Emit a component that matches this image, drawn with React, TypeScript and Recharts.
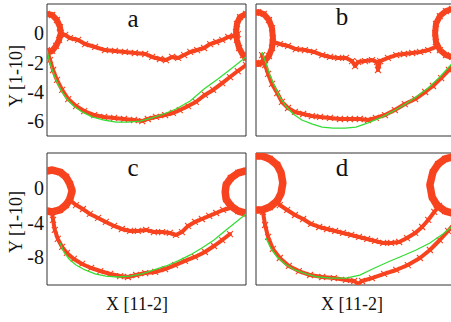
import { ScatterChart, Scatter, XAxis, YAxis } from 'recharts';

const RED = '#f7431f';
const GREEN = '#36dc36';
const FRAME = '#333';
const SERIF = '"Liberation Serif", "DejaVu Serif", serif';

type Pt = [number, number];

const xTicks = [1, 2, 3, 4, 5];
const topTicks = [0, -2, -4, -6];
const bottomTicks = [0, -4, -8];
const topDomain = [-7, 2];
const bottomDomain = [-11.2, 4];

// panel a
const aRingL: Pt[] = [[0.70, 1.32], [0.82, 1.25], [0.93, 0.91], [1.00, 0.43], [1.02, 0.02], [0.98, -0.45], [0.91, -0.86], [0.82, -1.20], [0.70, -1.34]];
const aRingR: Pt[] = [[5.30, 1.32], [5.16, 1.11], [5.09, 0.64], [5.07, 0.09], [5.09, -0.45], [5.14, -1.00], [5.23, -1.48], [5.30, -1.68]];
const aUpper: Pt[] = [[1.00, 0.02], [1.12, -0.11], [1.23, -0.32], [1.42, -0.45], [1.58, -0.73], [1.81, -0.93], [2.04, -1.14], [2.27, -1.20], [2.50, -1.27], [2.73, -1.34], [2.97, -1.41], [3.13, -1.61], [3.31, -1.75], [3.45, -1.82], [3.59, -1.61], [3.73, -1.68], [3.87, -1.48], [4.01, -1.27], [4.17, -1.14], [4.33, -1.00], [4.47, -0.73], [4.61, -0.59], [4.75, -0.45], [4.89, -0.25], [5.02, -0.18], [5.11, -0.05]];
const aLower: Pt[] = [[0.70, -1.14], [0.77, -1.82], [0.84, -2.50], [0.93, -3.18], [1.05, -3.86], [1.19, -4.48], [1.37, -4.96], [1.56, -5.30], [1.79, -5.57], [2.02, -5.70], [2.25, -5.77], [2.48, -5.84], [2.71, -5.91], [2.90, -5.98], [3.03, -5.84], [3.22, -5.70], [3.43, -5.57], [3.61, -5.43], [3.77, -5.23], [3.96, -4.96], [4.14, -4.68], [4.35, -4.20], [4.54, -3.86], [4.75, -3.39], [4.93, -2.98], [5.11, -2.57], [5.30, -2.16]];
const aFit: Pt[] = [[0.70, -1.14], [0.75, -1.82], [0.82, -2.50], [0.91, -3.18], [1.02, -3.86], [1.16, -4.48], [1.32, -4.96], [1.51, -5.36], [1.74, -5.70], [2.02, -5.91], [2.30, -6.05], [2.57, -6.05], [2.85, -5.98], [3.13, -5.77], [3.40, -5.50], [3.68, -5.16], [4.01, -4.61], [4.33, -3.80], [4.65, -3.11], [4.98, -2.36], [5.30, -1.61]];

// panel b
const bRingL: Pt[] = [[0.70, 1.40], [0.75, 1.45], [0.88, 1.32], [1.00, 0.91], [1.07, 0.36], [1.09, -0.32], [1.07, -1.00], [1.00, -1.55], [0.88, -1.95], [0.75, -2.09], [0.70, -2.02]];
const bRingR: Pt[] = [[5.30, 1.66], [5.23, 1.66], [5.09, 1.52], [4.95, 1.18], [4.86, 0.64], [4.84, 0.02], [4.86, -0.59], [4.95, -1.14], [5.09, -1.48], [5.23, -1.61], [5.30, -1.61]];
const bUpper: Pt[] = [[1.09, -0.59], [1.25, -0.73], [1.44, -0.86], [1.62, -1.07], [1.83, -1.14], [2.04, -1.27], [2.23, -1.48], [2.41, -1.61], [2.60, -1.68], [2.78, -1.68], [2.92, -1.89], [2.99, -2.23], [3.06, -1.95], [3.22, -1.89], [3.38, -1.82], [3.50, -1.95], [3.52, -2.50], [3.57, -1.89], [3.75, -1.68], [3.94, -1.48], [4.12, -1.41], [4.31, -1.34], [4.49, -1.27], [4.68, -1.14], [4.86, -0.93]];
const bLower: Pt[] = [[0.84, -1.48], [0.91, -2.16], [0.98, -2.77], [1.07, -3.45], [1.19, -4.07], [1.30, -4.68], [1.44, -5.09], [1.60, -5.36], [1.79, -5.50], [1.99, -5.64], [2.18, -5.70], [2.41, -5.77], [2.64, -5.84], [2.87, -5.84], [3.10, -5.84], [3.29, -5.91], [3.47, -5.77], [3.68, -5.57], [3.91, -5.23], [4.14, -4.82], [4.38, -4.48], [4.61, -4.00], [4.79, -3.59], [4.98, -3.05], [5.16, -2.50], [5.30, -2.09]];
const bFit: Pt[] = [[0.84, -1.27], [0.93, -2.02], [1.02, -2.84], [1.14, -3.66], [1.25, -4.34], [1.39, -4.96], [1.56, -5.50], [1.76, -5.91], [1.99, -6.18], [2.23, -6.39], [2.48, -6.46], [2.76, -6.46], [3.01, -6.39], [3.29, -6.11], [3.57, -5.77], [3.84, -5.36], [4.12, -4.89], [4.40, -4.34], [4.68, -3.73], [4.95, -2.98], [5.18, -2.23], [5.30, -1.82]];

// panel c
const cRingL: Pt[] = [[0.70, 1.93], [0.82, 2.04], [1.00, 1.81], [1.14, 1.24], [1.23, 0.43], [1.28, -0.37], [1.23, -1.30], [1.14, -1.99], [1.00, -2.56], [0.82, -2.79], [0.70, -2.68]];
const cRingR: Pt[] = [[5.30, 1.93], [5.12, 1.70], [4.95, 1.12], [4.84, 0.32], [4.82, -0.49], [4.84, -1.30], [4.95, -2.10], [5.12, -2.68], [5.30, -2.91]];
const cUpper: Pt[] = [[1.23, -1.41], [1.37, -1.99], [1.53, -2.45], [1.69, -3.02], [1.88, -3.48], [2.06, -3.94], [2.25, -4.40], [2.43, -4.75], [2.62, -4.98], [2.80, -4.98], [2.99, -4.86], [3.17, -5.10], [3.36, -5.10], [3.54, -5.21], [3.68, -5.44], [3.82, -5.10], [3.96, -4.40], [4.12, -3.94], [4.28, -3.60], [4.45, -3.25], [4.61, -2.91], [4.77, -2.56], [4.93, -2.33]];
const cLower: Pt[] = [[0.82, -2.79], [0.84, -3.71], [0.88, -4.86], [0.95, -5.90], [1.05, -6.82], [1.16, -7.51], [1.32, -8.20], [1.51, -8.78], [1.72, -9.24], [1.93, -9.59], [2.16, -9.93], [2.39, -10.17], [2.57, -10.28], [2.76, -10.05], [2.97, -9.82], [3.20, -9.70], [3.43, -9.36], [3.66, -8.90], [3.89, -8.43], [4.12, -7.97], [4.35, -7.40], [4.56, -6.71], [4.75, -6.02], [4.93, -5.33]];
const cFit: Pt[] = [[1.00, -6.36], [1.09, -7.40], [1.21, -8.20], [1.37, -8.90], [1.58, -9.47], [1.81, -9.93], [2.06, -10.17], [2.34, -10.28], [2.62, -10.17], [2.90, -9.93], [3.17, -9.47], [3.45, -9.01], [3.73, -8.43], [4.01, -7.74], [4.28, -6.94], [4.56, -6.02], [4.84, -4.86], [5.07, -3.94], [5.30, -3.02]];

// panel d
const dRingL: Pt[] = [[0.70, 3.65], [0.84, 3.65], [1.02, 3.31], [1.19, 2.62], [1.28, 1.70], [1.32, 0.55], [1.28, -0.61], [1.19, -1.53], [1.02, -2.22], [0.84, -2.56], [0.70, -2.56]];
const dRingR: Pt[] = [[5.30, 3.54], [5.25, 3.54], [5.07, 3.31], [4.91, 2.73], [4.79, 1.81], [4.72, 0.32], [4.77, -1.07], [4.88, -1.99], [5.07, -2.68], [5.25, -2.91], [5.30, -2.91]];
const dUpper: Pt[] = [[1.25, -1.99], [1.42, -2.56], [1.60, -3.14], [1.79, -3.60], [1.97, -4.17], [2.16, -4.52], [2.34, -4.75], [2.53, -4.98], [2.71, -5.21], [2.90, -5.44], [3.08, -5.67], [3.27, -5.90], [3.45, -6.13], [3.64, -6.36], [3.82, -6.36], [4.01, -6.25], [4.19, -5.79], [4.38, -5.21], [4.54, -4.52], [4.68, -3.71], [4.82, -2.79], [4.93, -2.10]];
const dLower: Pt[] = [[0.86, -2.79], [0.91, -4.29], [0.98, -5.67], [1.09, -7.05], [1.25, -8.09], [1.46, -9.01], [1.69, -9.59], [1.95, -10.05], [2.23, -10.28], [2.50, -10.40], [2.78, -10.62], [2.97, -10.74], [3.06, -11.08], [3.15, -10.74], [3.38, -10.40], [3.66, -9.93], [3.94, -9.47], [4.21, -8.90], [4.49, -8.09], [4.72, -7.17], [4.95, -6.02], [5.14, -4.98], [5.30, -4.06]];
const dFit: Pt[] = [[0.93, -5.79], [1.05, -7.05], [1.19, -7.97], [1.37, -8.78], [1.60, -9.47], [1.86, -9.93], [2.13, -10.28], [2.46, -10.40], [2.78, -10.40], [3.10, -10.05], [3.43, -9.27], [3.75, -8.55], [4.08, -7.86], [4.40, -7.17], [4.72, -6.36], [5.02, -5.33], [5.30, -4.18]];

const toRows = (pts: Pt[]) => pts.map(([x, y]) => ({ x, y }));

const Cross = (props: any) => {
  const { cx, cy } = props;
  if (cx == null || cy == null) return <g />;
  const s = 3;
  return (
    <path
      d={`M${cx - s},${cy - s}L${cx + s},${cy + s}M${cx - s},${cy + s}L${cx + s},${cy - s}`}
      stroke={RED}
      strokeWidth={1.1}
      fill="none"
    />
  );
};
const NoDot = () => <g />;

interface PanelProps {
  left: number;
  top: number;
  yDomain: number[];
  yTicks: number[];
  showY: boolean;
  ringWidth: number;
  rings: Pt[][];
  curves: Pt[][];
  fit: Pt[];
}

function Panel({ left, top, yDomain, yTicks, showY, ringWidth, rings, curves, fit }: PanelProps) {
  return (
    <div style={{ position: 'absolute', left, top }}>
      <ScatterChart width={250} height={145} margin={{ top: 4, right: 4, bottom: 9, left: 0 }}>
        <XAxis xAxisId="b" type="number" dataKey="x" domain={[0.7, 5.3]} ticks={xTicks} allowDataOverflow mirror tick={false} tickSize={3} stroke={FRAME} />
        <XAxis xAxisId="t" orientation="top" type="number" dataKey="x" domain={[0.7, 5.3]} ticks={xTicks} allowDataOverflow mirror tick={false} tickSize={3} stroke={FRAME} />
        <YAxis
          yAxisId="l"
          type="number"
          dataKey="y"
          domain={yDomain}
          ticks={yTicks}
          interval={0}
          allowDataOverflow
          width={47}
          tickLine={false}
          tickSize={0}
          tickMargin={3}
          stroke={FRAME}
          tick={showY ? { fill: '#111', fontSize: 20, fontFamily: SERIF } : false}
        />
        <YAxis yAxisId="m" type="number" dataKey="y" domain={yDomain} ticks={yTicks} interval={0} allowDataOverflow mirror axisLine={false} tick={false} tickSize={3} stroke={FRAME} />
        <YAxis yAxisId="r" orientation="right" type="number" dataKey="y" domain={yDomain} ticks={yTicks} interval={0} allowDataOverflow mirror tick={false} tickSize={3} stroke={FRAME} />
        {rings.map((r, i) => (
          <Scatter
            key={`ring${i}`}
            xAxisId="b"
            yAxisId="l"
            data={toRows(r)}
            fill={RED}
            line={{ stroke: RED, strokeWidth: ringWidth, strokeLinejoin: 'round', strokeLinecap: 'round' }}
            shape={Cross}
            isAnimationActive={false}
          />
        ))}
        {curves.map((c, i) => (
          <Scatter
            key={`curve${i}`}
            xAxisId="b"
            yAxisId="l"
            data={toRows(c)}
            fill={RED}
            line={{ stroke: RED, strokeWidth: 4, strokeLinejoin: 'round', strokeLinecap: 'round' }}
            shape={Cross}
            isAnimationActive={false}
          />
        ))}
        <Scatter
          xAxisId="b"
          yAxisId="l"
          data={toRows(fit)}
          fill={GREEN}
          line={{ stroke: GREEN, strokeWidth: 1.3 }}
          shape={NoDot}
          isAnimationActive={false}
        />
      </ScatterChart>
    </div>
  );
}

export default function App() {
  return (
    <div style={{ position: 'absolute', left: 0, top: 0, width: 451, height: 322, overflow: 'hidden', background: '#fff' }}>
      <Panel left={0} top={0} yDomain={topDomain} yTicks={topTicks} showY ringWidth={6} rings={[aRingL, aRingR]} curves={[aUpper, aLower]} fit={aFit} />
      <Panel left={209} top={0} yDomain={topDomain} yTicks={topTicks} showY={false} ringWidth={6} rings={[bRingL, bRingR]} curves={[bUpper, bLower]} fit={bFit} />
      <Panel left={0} top={149} yDomain={bottomDomain} yTicks={bottomTicks} showY ringWidth={7.5} rings={[cRingL, cRingR]} curves={[cUpper, cLower]} fit={cFit} />
      <Panel left={209} top={149} yDomain={bottomDomain} yTicks={bottomTicks} showY={false} ringWidth={7.5} rings={[dRingL, dRingR]} curves={[dUpper, dLower]} fit={dFit} />
      <svg width={451} height={322} style={{ position: 'absolute', left: 0, top: 0, pointerEvents: 'none' }}>
        <g fontFamily={SERIF} fill="#111">
          <text x={133} y={27} fontSize={25} textAnchor="middle">a</text>
          <text x={342} y={25} fontSize={25} textAnchor="middle">b</text>
          <text x={133} y={176} fontSize={25} textAnchor="middle">c</text>
          <text x={342} y={176} fontSize={25} textAnchor="middle">d</text>
          <text x={16} y={76} fontSize={18} textAnchor="middle" dominantBaseline="central" transform="rotate(-90 16 76)">Y [1-10]</text>
          <text x={16} y={222} fontSize={18} textAnchor="middle" dominantBaseline="central" transform="rotate(-90 16 222)">Y [1-10]</text>
          <text x={137} y={310} fontSize={18} textAnchor="middle">X [11-2]</text>
          <text x={352} y={310} fontSize={18} textAnchor="middle">X [11-2]</text>
        </g>
      </svg>
    </div>
  );
}
